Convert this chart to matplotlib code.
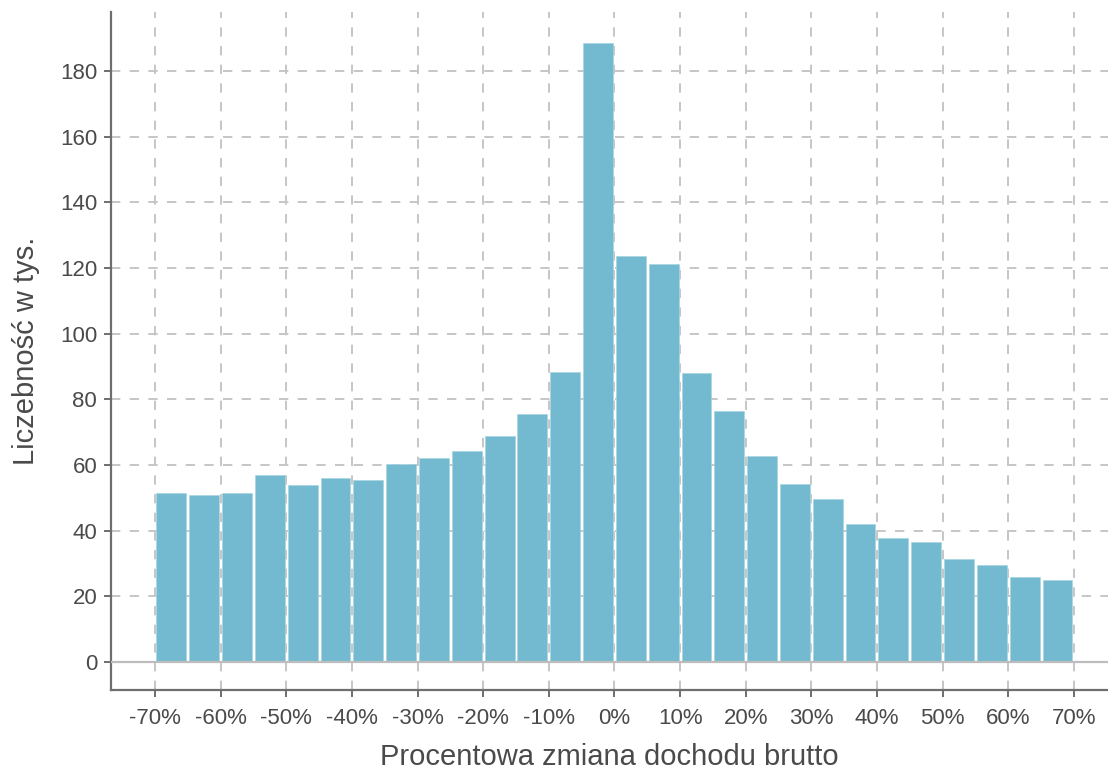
import matplotlib
matplotlib.use("Agg")
import matplotlib.pyplot as plt
import numpy as np
from matplotlib.ticker import FuncFormatter

plt.rcParams['font.family'] = ['Liberation Sans', 'DejaVu Sans']

bin_left = [-70, -65, -60, -55, -50, -45, -40, -35, -30, -25, -20, -15, -10, -5,
            0, 5, 10, 15, 20, 25, 30, 35, 40, 45, 50, 55, 60, 65]
counts = [51.6, 50.9, 51.4, 57.0, 53.9, 56.1, 55.6, 60.2, 62.1, 64.3, 68.8, 75.5, 88.3, 188.5,
          123.7, 121.2, 88.0, 76.5, 62.7, 54.2, 49.6, 42.1, 37.9, 36.5, 31.3, 29.5, 26.0, 25.1]
x_ticks = [-70, -60, -50, -40, -30, -20, -10, 0, 10, 20, 30, 40, 50, 60, 70]
y_ticks = [0, 20, 40, 60, 80, 100, 120, 140, 160, 180]

bin_width = 5
bar_color = '#73b9d0'
grid_color = '#c6c6c6'
spine_color = '#6e6e6e'
text_color = '#4a4a4a'

fig = plt.figure(figsize=(11.08, 7.69), dpi=100)
ax = fig.add_axes([0.1002, 0.1027, 0.8998, 0.8817])

centers = np.array(bin_left) + bin_width / 2
ax.bar(centers, counts, width=bin_width * 0.91, align='center', color=bar_color,
       edgecolor='#a9d4e2', linewidth=0.5, zorder=3)

ax.axhline(0, color='#bdbdbd', linewidth=1.6, zorder=4)

ax.set_xlim(-76.7, 75.2)
ax.set_ylim(-8.5, 198)
ax.set_xticks(x_ticks)
ax.set_yticks(y_ticks)
ax.xaxis.set_major_formatter(FuncFormatter(lambda v, p: f"{int(round(v))}%"))

ax.grid(True, linestyle=(0, (4.8, 4.8)), color=grid_color, linewidth=1.4, zorder=0)

for s in ['top', 'right']:
    ax.spines[s].set_visible(False)
for s in ['left', 'bottom']:
    ax.spines[s].set_color(spine_color)
    ax.spines[s].set_linewidth(1.6)

ax.tick_params(axis='both', colors=spine_color, length=5, width=1.4,
               labelsize=16, labelcolor=text_color, pad=5)
ax.tick_params(axis='x', pad=8)

ax.set_xlabel('Procentowa zmiana dochodu brutto', fontsize=21, color=text_color, labelpad=10)
ax.set_ylabel('Liczebność w tys.', fontsize=21, color=text_color, labelpad=14)

fig.savefig('out.png', dpi=100)
